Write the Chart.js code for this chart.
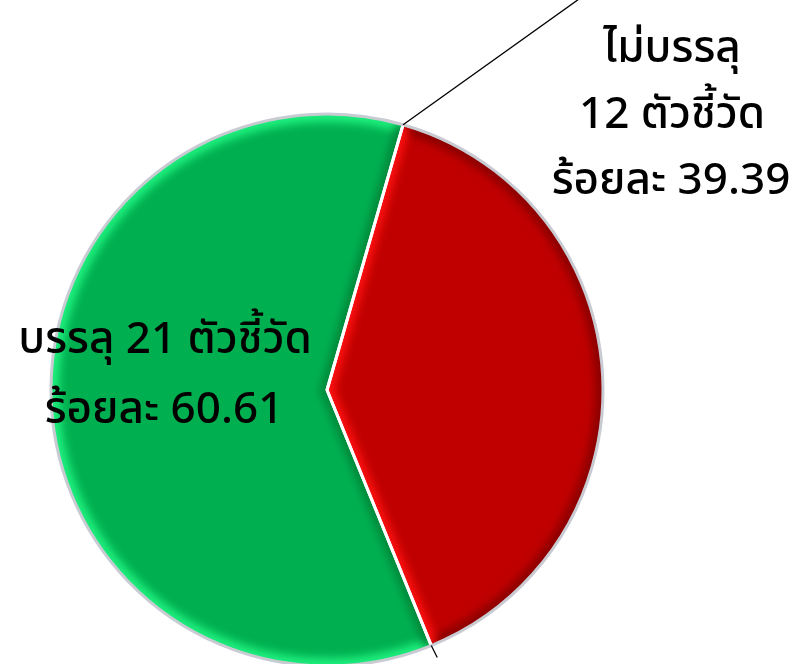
<!DOCTYPE html>
<html>
<head>
<meta charset="utf-8">
<script src="https://cdn.jsdelivr.net/npm/chart.js@4/dist/chart.umd.min.js"></script>
<style>
html,body{margin:0;padding:0;background:#fff;overflow:hidden;}
#wrap{position:absolute;left:0;top:0;width:796px;height:664px;}
</style>
</head>
<body>
<div id="wrap"><canvas id="c" width="796" height="664"></canvas></div>
<script>
const categories = ['ไม่บรรลุ', 'บรรลุ'];
const counts = [12, 21];
const percents = [39.39, 60.61];
const colors = ['#C00000', '#00B050'];

const FONT = '500 44px "Noto Sans Thai", "Noto Sans Thai UI", "Leelawadee UI", Tahoma, "Noto Sans", sans-serif';

const bevel = {
  id: 'bevel',
  afterDatasetsDraw(chart) {
    const ctx = chart.ctx;
    const arcs = chart.getDatasetMeta(0).data;
    const edge = [
      {radial: '#ff1010', rim: '#8a0000'},
      {radial: '#00873a', rim: '#1ef07e'}
    ];
    arcs.forEach((a, i) => {
      const p = a.getProps(['x','y','startAngle','endAngle','outerRadius']);
      ctx.save();
      ctx.beginPath();
      ctx.moveTo(p.x, p.y);
      ctx.arc(p.x, p.y, p.outerRadius, p.startAngle, p.endAngle);
      ctx.closePath();
      ctx.clip();
      ctx.filter = 'blur(4px)';
      ctx.lineWidth = 14;
      ctx.strokeStyle = edge[i].rim;
      ctx.beginPath();
      ctx.arc(p.x, p.y, p.outerRadius, p.startAngle, p.endAngle);
      ctx.stroke();
      ctx.strokeStyle = edge[i].radial;
      ctx.beginPath();
      ctx.moveTo(p.x + Math.cos(p.startAngle)*p.outerRadius, p.y + Math.sin(p.startAngle)*p.outerRadius);
      ctx.lineTo(p.x, p.y);
      ctx.lineTo(p.x + Math.cos(p.endAngle)*p.outerRadius, p.y + Math.sin(p.endAngle)*p.outerRadius);
      ctx.stroke();
      ctx.restore();
    });
    arcs.forEach((a) => {
      const p = a.getProps(['x','y','startAngle','endAngle','outerRadius']);
      ctx.save();
      ctx.strokeStyle = '#ffffff';
      ctx.lineWidth = 3;
      ctx.lineJoin = 'round';
      ctx.beginPath();
      ctx.moveTo(p.x + Math.cos(p.startAngle)*p.outerRadius, p.y + Math.sin(p.startAngle)*p.outerRadius);
      ctx.lineTo(p.x, p.y);
      ctx.lineTo(p.x + Math.cos(p.endAngle)*p.outerRadius, p.y + Math.sin(p.endAngle)*p.outerRadius);
      ctx.stroke();
      ctx.strokeStyle = '#c9cbd3';
      ctx.lineWidth = 3;
      ctx.beginPath();
      ctx.arc(p.x, p.y, p.outerRadius + 1, p.startAngle, p.endAngle);
      ctx.stroke();
      ctx.restore();
    });
    // leader lines
    const red = arcs[0].getProps(['x','y','startAngle','endAngle','outerRadius']);
    const sx = red.x + Math.cos(red.startAngle) * (red.outerRadius + 1);
    const sy = red.y + Math.sin(red.startAngle) * (red.outerRadius + 1);
    ctx.save();
    ctx.strokeStyle = '#000';
    ctx.lineWidth = 1.3;
    ctx.beginPath();
    ctx.moveTo(sx, sy);
    ctx.lineTo(sx + 175, sy - 125);
    ctx.stroke();
    const ex = red.x + Math.cos(red.endAngle) * (red.outerRadius + 1);
    const ey = red.y + Math.sin(red.endAngle) * (red.outerRadius + 1);
    ctx.beginPath();
    ctx.moveTo(ex, ey);
    ctx.lineTo(ex + 6, ey + 12);
    ctx.stroke();
    // labels
    ctx.fillStyle = '#000';
    ctx.font = FONT;
    ctx.textAlign = 'center';
    ctx.textBaseline = 'alphabetic';
    ctx.fillText(categories[0], 672, 62);
    ctx.fillText(counts[0] + ' ตัวชี้วัด', 672, 128);
    ctx.fillText('ร้อยละ ' + percents[0].toFixed(2), 671, 194);
    ctx.fillText(categories[1] + ' ' + counts[1] + ' ตัวชี้วัด', 165, 353);
    ctx.fillText('ร้อยละ ' + percents[1].toFixed(2), 164, 423);
    ctx.restore();
  }
};

new Chart(document.getElementById('c'), {
  type: 'pie',
  data: {
    labels: categories,
    datasets: [{
      data: percents,
      backgroundColor: colors,
      borderWidth: 0,
      offset: [5, 0],
      radius: 275,
      clip: false
    }]
  },
  options: {
    responsive: false,
    animation: false,
    rotation: 16,
    layout: {padding: {left: 0, right: 142, top: 116, bottom: 0}},
    plugins: {legend: {display: false}, tooltip: {enabled: false}}
  },
  plugins: [bevel]
});
</script>
</body>
</html>
